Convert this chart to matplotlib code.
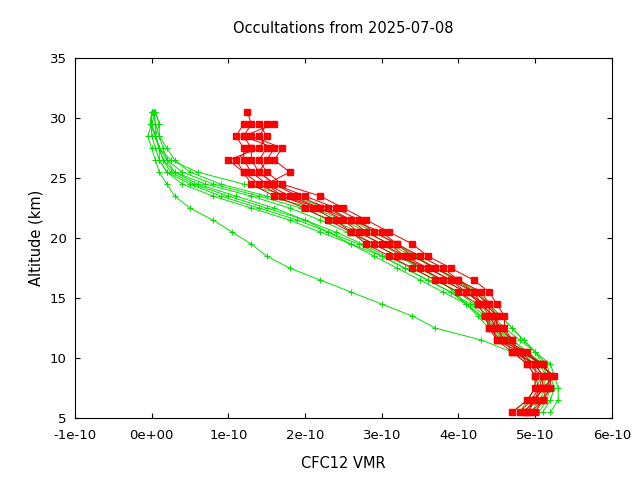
import matplotlib
matplotlib.use("Agg")
import matplotlib.pyplot as plt

alt = [5.5 + i for i in range(26)]

green = [
 [4.9,5.0,5.1,5.15,5.1,5.0,4.8,4.6,4.45,4.3,4.1,3.8,3.5,3.2,2.9,2.55,2.2,1.8,1.3,0.7,0.3,0.2,0.1,0.05,0.0,0.0],
 [4.8,4.9,5.0,5.0,4.9,4.7,4.3,3.7,3.4,3.0,2.6,2.2,1.8,1.5,1.3,1.05,0.8,0.5,0.3,0.2,0.1,0.05,0.0,-0.05,0.0,0.05],
 [5.0,5.1,5.2,5.2,5.15,5.0,4.85,4.7,4.55,4.4,4.25,4.0,3.7,3.4,3.1,2.8,2.5,2.1,1.5,0.9,0.5,0.3,0.2,0.1,0.05,0.02],
 [5.1,5.2,5.25,5.2,5.1,4.9,4.7,4.5,4.3,4.1,3.9,3.6,3.3,3.0,2.7,2.3,1.9,1.4,0.9,0.5,0.2,0.1,0.1,0.05,0.0,0.0],
 [4.7,4.9,5.0,5.1,5.0,4.8,4.6,4.45,4.3,4.1,3.8,3.5,3.2,2.9,2.6,2.3,2.0,1.6,1.1,0.6,0.3,0.15,0.1,0.05,-0.02,0.0],
 [5.2,5.3,5.3,5.25,5.2,5.0,4.85,4.7,4.55,4.4,4.2,3.95,3.7,3.45,3.2,2.9,2.6,2.3,1.8,1.2,0.6,0.25,0.1,0.05,0.1,0.05],
 [4.95,5.05,5.15,5.2,5.1,4.9,4.7,4.55,4.4,4.2,4.0,3.7,3.4,3.05,2.75,2.4,2.0,1.5,1.0,0.55,0.25,0.15,0.1,0.05,0.05,0.03],
 [5.05,5.15,5.2,5.15,5.05,4.85,4.65,4.5,4.35,4.15,3.9,3.6,3.3,3.0,2.6,2.2,1.8,1.3,0.8,0.4,0.2,0.1,0.05,0.0,0.0,0.0],
 [4.85,5.0,5.1,5.1,5.0,4.8,4.6,4.4,4.25,4.1,3.95,3.75,3.5,3.25,3.0,2.7,2.35,1.95,1.4,0.8,0.4,0.2,0.15,0.1,0.1,0.05],
]
red = [
 [4.7,4.9,5.0,5.0,5.0,4.7,4.6,4.5,4.5,4.4,4.3,4.0,3.7,3.4,3.2,3.0,2.6,2.3,1.9,1.6,1.4,1.3,1.3,1.2,1.3,1.25],
 [4.9,5.0,5.1,5.1,4.9,4.8,4.7,4.6,4.6,4.5,4.4,4.2,3.9,3.6,3.4,3.1,2.8,2.5,2.2,1.7,1.5,1.4,1.5,1.4,1.5,None],
 [5.0,5.1,5.2,5.2,5.1,4.8,4.5,4.4,4.4,4.3,4.2,3.9,3.6,3.3,3.0,2.7,2.5,2.2,1.8,1.5,1.3,1.2,1.2,1.1,1.2,None],
 [4.8,4.95,5.05,5.0,4.9,4.7,4.5,4.45,4.5,4.35,4.1,3.8,3.5,3.3,3.1,2.8,2.6,2.2,1.7,1.4,1.2,1.0,1.4,1.5,1.4,None],
 [4.9,5.0,5.1,5.25,5.05,4.9,4.6,4.5,4.4,4.4,4.2,4.0,3.8,3.5,3.2,2.9,2.7,2.4,2.0,1.6,1.4,1.5,1.6,1.2,1.6,None],
 [4.85,5.0,5.05,5.1,5.0,4.75,4.7,4.55,4.45,4.3,4.1,3.9,3.6,3.2,2.9,2.6,2.4,2.1,1.7,1.5,1.8,1.6,1.7,1.3,None,None],
 [4.95,5.1,5.15,5.2,5.1,4.85,4.55,4.4,4.35,4.25,4.0,3.7,3.4,3.1,2.8,2.6,2.3,2.0,1.6,1.3,1.2,1.1,1.3,None,None,None],
]

fig, ax = plt.subplots(figsize=(6.4, 4.8), dpi=100)
fig.subplots_adjust(left=0.117, right=0.956, top=0.879, bottom=0.129)
for g in green:
    ax.plot([v * 1e-10 for v in g], alt, color="#00e000", lw=0.7, marker="+", ms=4.5, mew=0.7)
for r in red:
    pts = [(v * 1e-10, a) for v, a in zip(r, alt) if v is not None]
    ax.plot([p[0] for p in pts], [p[1] for p in pts], color="#e00000", lw=0.7,
            marker="s", ms=4.5, mec="red", mfc="red")

ax.set_xlim(-1e-10, 6e-10)
ax.set_ylim(5, 35)
xt = [i * 1e-10 for i in range(-1, 7)]
ax.set_xticks(xt)
ax.set_xticklabels(["-1e-10", "0e+00", "1e-10", "2e-10", "3e-10", "4e-10", "5e-10", "6e-10"])
ax.set_yticks(range(5, 36, 5))
ax.tick_params(direction="in", top=True, right=True, labelsize=9.5)
ax.tick_params(axis="x", pad=8)
ax.tick_params(axis="y", pad=6)
ax.set_xlabel("CFC12 VMR", fontsize=10.5, labelpad=10)
ax.set_ylabel("Altitude (km)", fontsize=10.5)
ax.set_title("Occultations from 2025-07-08", fontsize=10.5, pad=18)
fig.savefig("out.png")
